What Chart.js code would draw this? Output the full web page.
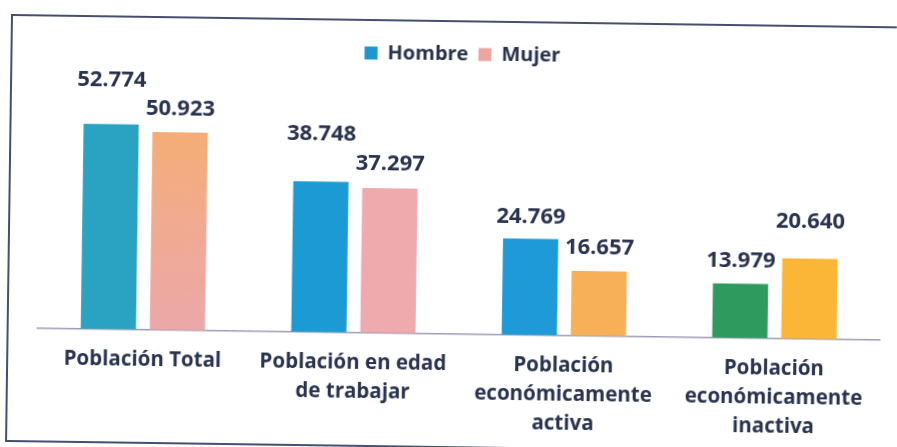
<!DOCTYPE html>
<html>
<head>
<meta charset="utf-8">
<script src="https://cdn.jsdelivr.net/npm/chart.js@4"></script>
<style>
  html, body { margin: 0; padding: 0; background: #ffffff; overflow: hidden; }
  #wrap { position: relative; width: 897px; height: 447px; transform-origin: 12px 15px; transform: rotate(0.8deg); }
  canvas { display: block; }
</style>
</head>
<body>
<div id="wrap"><canvas id="c" width="897" height="447"></canvas></div>
<script>
const categories = [
  ["Población Total"],
  ["Población en edad", "de trabajar"],
  ["Población", "económicamente", "activa"],
  ["Población", "económicamente", "inactiva"]
];
const seriesNames = ["Hombre", "Mujer"];
const hombre = [52774, 38748, 24769, 13979];
const mujer = [50923, 37297, 16657, 20640];
const valueText = (v) => v.toLocaleString('de-DE');

// styling
const hombreColors = ["#2aa3c2", "#1c9ad4", "#1e9ad8", "#2e9a5e"];
const mujerColors = [null, "#eeaaad", "#f8b058", "#fbb637"];
const legendColors = ["#1e96d0", "#eba5a3"];
const hombreLabelLift = [44, 48, 22, 23];
const mujerLabelLift = [23, 24, 23, 37];
const textColor = "#29334f";
const FONT = "'Open Sans', 'DejaVu Sans', sans-serif";

function mujerBg(ctx) {
  const i = ctx.dataIndex;
  if (mujerColors[i]) return mujerColors[i];
  const chart = ctx.chart;
  const ys = chart.scales.y;
  if (!ys) return "#f0ab90";
  const top = ys.getPixelForValue(mujer[i]);
  const bot = ys.getPixelForValue(0);
  if (!isFinite(top) || !isFinite(bot)) return "#f0ab90";
  const g = chart.ctx.createLinearGradient(0, top, 0, bot);
  g.addColorStop(0, "#f4ad76");
  g.addColorStop(0.45, "#f1ab90");
  g.addColorStop(1, "#eca8a8");
  return g;
}

const framePlugin = {
  id: 'frame',
  beforeDraw(chart) {
    const c = chart.ctx;
    c.save();
    c.fillStyle = '#ffffff';
    c.fillRect(0, 0, chart.width, chart.height);
    c.strokeStyle = '#45506e';
    c.lineWidth = 2;
    c.beginPath();
    c.moveTo(930, 15);
    c.lineTo(12, 15);
    c.lineTo(12, 441);
    c.lineTo(930, 441);
    c.stroke();
    c.restore();
  }
};

const labelPlugin = {
  id: 'vlabels',
  afterDatasetsDraw(chart) {
    const c = chart.ctx;
    c.save();
    c.fillStyle = textColor;
    c.font = "bold 22px " + FONT;
    c.textAlign = 'center';
    c.textBaseline = 'middle';
    const lifts = [hombreLabelLift, mujerLabelLift];
    chart.data.datasets.forEach((ds, di) => {
      const meta = chart.getDatasetMeta(di);
      meta.data.forEach((bar, i) => {
        c.fillText(valueText(ds.data[i]), bar.x, bar.y - lifts[di][i]);
      });
    });
    c.restore();
  }
};

new Chart(document.getElementById('c'), {
  type: 'bar',
  data: {
    labels: categories,
    datasets: [
      { label: seriesNames[0], data: hombre, backgroundColor: hombreColors,
        categoryPercentage: 0.656, barPercentage: 0.8 },
      { label: seriesNames[1], data: mujer, backgroundColor: mujerBg,
        categoryPercentage: 0.656, barPercentage: 0.8 }
    ]
  },
  options: {
    responsive: false,
    animation: false,
    layout: { padding: { top: 28, left: 42, right: 13, bottom: 8 } },
    plugins: {
      tooltip: { enabled: false },
      legend: {
        position: 'top',
        labels: {
          boxWidth: 13,
          boxHeight: 13,
          padding: 10,
          color: textColor,
          font: { family: FONT, size: 20, weight: 'bold' },
          generateLabels: (chart) => seriesNames.map((n, i) => ({
            text: n, fillStyle: legendColors[i], strokeStyle: legendColors[i],
            lineWidth: 0, datasetIndex: i, fontColor: textColor
          }))
        }
      }
    },
    scales: {
      x: {
        grid: { display: false },
        border: { display: true, color: '#9d9cb9', width: 1.5 },
        ticks: {
          color: textColor,
          font: { family: FONT, size: 20.5, weight: 'bold', lineHeight: 1.42 },
          padding: 8,
          maxRotation: 0,
          autoSkip: false
        }
      },
      y: {
        display: false,
        min: 0,
        max: 66900,
        grid: { display: false }
      }
    }
  },
  plugins: [framePlugin, labelPlugin]
});
</script>
</body>
</html>
